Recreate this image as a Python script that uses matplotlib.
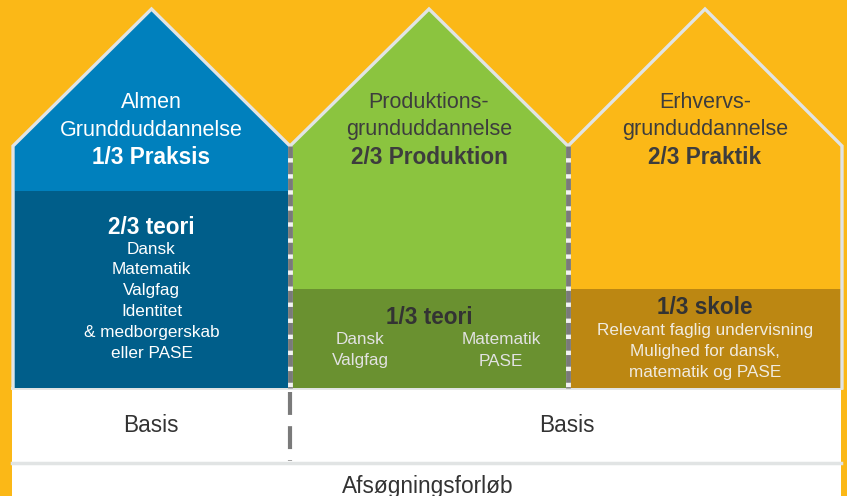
import matplotlib
matplotlib.use("Agg")
import matplotlib.pyplot as plt
from matplotlib.patches import Polygon, Rectangle

# ---- content ----
house_titles = [["Almen", "Grundduddannelse"],
                ["Produktions-", "grunduddannelse"],
                ["Erhvervs-", "grunduddannelse"]]
house_shares = ["1/3 Praksis", "2/3 Produktion", "2/3 Praktik"]
lower_heads = ["2/3 teori", "1/3 teori", "1/3 skole"]
lower_items_1 = ["Dansk", "Matematik", "Valgfag", "Identitet", "& medborgerskab", "eller PASE"]
lower_items_2_left = ["Dansk", "Valgfag"]
lower_items_2_right = ["Matematik", "PASE"]
lower_items_3 = ["Relevant faglig undervisning", "Mulighed for dansk,", "matematik og PASE"]
basis_labels = ["Basis", "Basis"]
bottom_label = "Afsøgningsforløb"

# ---- style ----
BG = "#FBB817"
TOP = ["#0080BD", "#8BC43F", "#FBB817"]
LOW = ["#005E8A", "#6A9130", "#BC8712"]
TITLE_C = ["white", "#3d3d3d", "#3d3d3d"]
BORDER = "#E1E4E4"
FONT = "Liberation Sans"
FS_T, FS_B, FS_S, FS_BOT = 15.5, 16.3, 12.3, 16.3

W, H = 847, 496
fig = plt.figure(figsize=(W / 100, H / 100), dpi=100)
ax = fig.add_axes([0, 0, 1, 1])
ax.set_xlim(0, W)
ax.set_ylim(H, 0)
ax.axis("off")
fig.patch.set_facecolor(BG)

# houses geometry (pixel coords)
xs = [(13, 290), (290, 568), (568, 842)]
eave, peak, base = 146, 9, 388
low_top = [191, 289, 289]

# bottom rows
ax.add_patch(Rectangle((12, 386), 829, 120, facecolor="white", edgecolor="none", zorder=1))
ax.plot([12, 841], [388, 388], color=BORDER, lw=2, zorder=2)
ax.plot([12, 841], [462.5, 462.5], color=BORDER, lw=2.5, zorder=2)

for i, (x0, x1) in enumerate(xs):
    cx = (x0 + x1) / 2
    ax.add_patch(Polygon([(x0, base), (x0, eave), (cx, peak), (x1, eave), (x1, base)],
                         closed=True, facecolor=TOP[i], edgecolor="none", zorder=2))
    ax.add_patch(Rectangle((x0 + 1.5, low_top[i]), x1 - x0 - 3, base - low_top[i],
                           facecolor=LOW[i], edgecolor="none", zorder=3))
    # roof + walls outline
    ax.plot([x0, x0, cx, x1, x1], [base, eave, peak, eave, base], color=BORDER,
            lw=2.4, solid_joinstyle="miter", zorder=4)
    # titles
    ax.text(cx, 103, house_titles[i][0], ha="center", va="center", fontsize=FS_T,
            color=TITLE_C[i], family=FONT, zorder=6)
    ax.text(cx, 130, house_titles[i][1], ha="center", va="center", fontsize=FS_T,
            color=TITLE_C[i], family=FONT, zorder=6)
    ax.text(cx, 158, house_shares[i], ha="center", va="center", fontsize=FS_B,
            color=TITLE_C[i], family=FONT, fontweight="bold", zorder=6)

# dividers (dashed)
for xd, yend in [(290, 388), (568, 388)]:
    ax.plot([xd, xd], [eave, yend], color="#f2f2f2", lw=3.5, zorder=5, solid_capstyle="butt")
    ax.plot([xd, xd], [eave, yend], color="#7a7a7a", lw=3.5, zorder=5,
            dashes=(2.4, 0.9), solid_capstyle="butt")
ax.plot([289.5, 289.5], [392, 461], color="#7a7a7a", lw=3, zorder=5,
        dashes=(5.5, 2.7), solid_capstyle="butt")

# lower texts house 1
c1 = sum(xs[0]) / 2
ax.text(c1, 228, lower_heads[0], ha="center", va="center", fontsize=FS_B,
        color="white", family=FONT, fontweight="bold", zorder=6)
for k, t in enumerate(lower_items_1):
    ax.text(c1, 249 + k * 21, t, ha="center", va="center", fontsize=FS_S,
            color="white", family=FONT, zorder=6)

# house 2
c2 = sum(xs[1]) / 2
ax.text(c2, 318, lower_heads[1], ha="center", va="center", fontsize=FS_B,
        color="#333333", family=FONT, fontweight="bold", zorder=6)
for k, t in enumerate(lower_items_2_left):
    ax.text(360, 340 + k * 21, t, ha="center", va="center", fontsize=FS_S,
            color="#e2e2e2", family=FONT, zorder=6)
for k, t in enumerate(lower_items_2_right):
    ax.text(501, 340 + k * 21, t, ha="center", va="center", fontsize=FS_S,
            color="#e2e2e2", family=FONT, zorder=6)

# house 3
c3 = sum(xs[2]) / 2
ax.text(c3, 308, lower_heads[2], ha="center", va="center", fontsize=FS_B,
        color="#333333", family=FONT, fontweight="bold", zorder=6)
for k, t in enumerate(lower_items_3):
    ax.text(c3, 331 + k * 20.5, t, ha="center", va="center", fontsize=FS_S,
            color="#f0ebe0", family=FONT, zorder=6)

# basis / bottom
ax.text(151, 425, basis_labels[0], ha="center", va="center", fontsize=FS_BOT,
        color="#333333", family=FONT, zorder=6)
ax.text(567, 425, basis_labels[1], ha="center", va="center", fontsize=FS_BOT,
        color="#333333", family=FONT, zorder=6)
ax.text(428, 486, bottom_label, ha="center", va="center", fontsize=FS_BOT,
        color="#333333", family=FONT, zorder=6)

fig.savefig("out.png", dpi=100, facecolor=BG)
